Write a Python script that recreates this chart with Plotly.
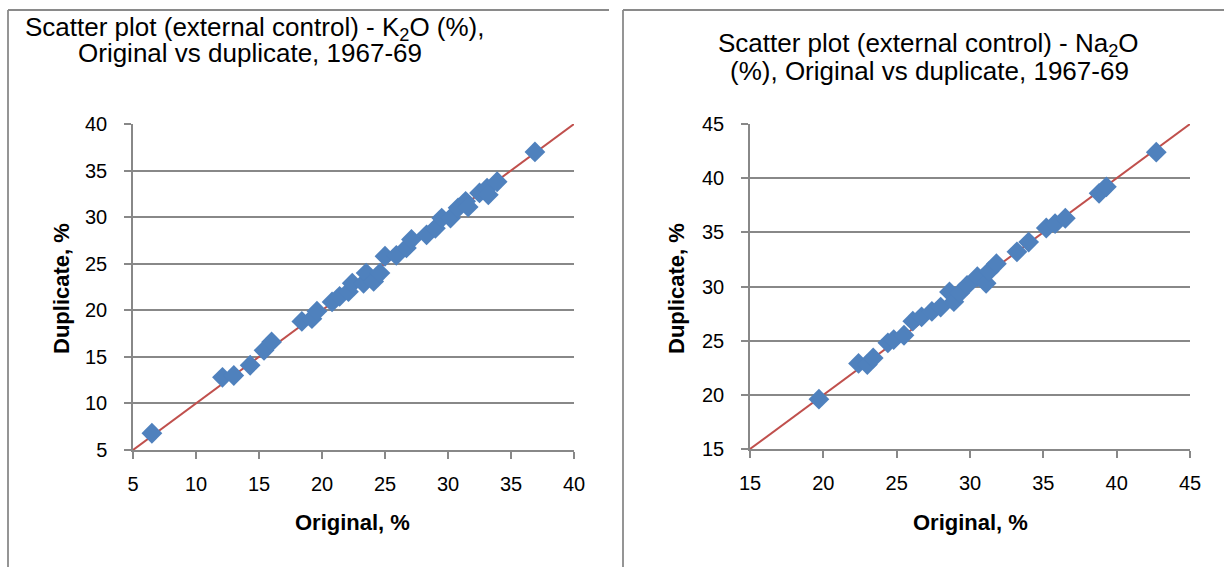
import plotly.graph_objects as go

W, H = 1224, 567

# ---- data: K2O (%) ----
k2o_original = [6.5, 12.1, 13.0, 14.3, 15.4, 16.0, 18.4, 19.2, 19.6, 20.8, 21.4, 22.1, 22.4,
                23.3, 23.5, 24.1, 24.6, 25.0, 25.9, 26.7, 27.1, 28.3, 29.0, 29.5, 30.2, 30.8,
                31.4, 31.6, 32.5, 33.1, 33.2, 33.9, 36.9]
k2o_duplicate = [6.8, 12.8, 13.0, 14.1, 15.7, 16.6, 18.8, 19.1, 19.9, 20.9, 21.5, 22.0, 22.9,
                 22.9, 24.0, 23.1, 24.0, 25.8, 25.9, 26.7, 27.6, 28.1, 28.8, 29.9, 29.9, 31.0,
                 31.7, 31.1, 32.6, 33.1, 32.4, 33.8, 37.0]

# ---- data: Na2O (%) ----
na2o_original = [19.7, 22.4, 23.0, 23.4, 24.4, 24.8, 25.5, 26.1, 26.7, 27.4, 28.0, 28.6, 28.9,
                 29.3, 29.8, 30.5, 31.1, 31.3, 31.8, 33.2, 34.0, 35.2, 35.8, 36.5, 38.8, 39.3, 42.7]
na2o_duplicate = [19.6, 22.9, 22.8, 23.4, 24.8, 25.1, 25.5, 26.8, 27.2, 27.7, 28.1, 29.5, 28.6,
                  29.4, 30.1, 30.9, 30.3, 31.4, 32.1, 33.2, 34.1, 35.4, 35.8, 36.3, 38.6, 39.2, 42.4]

k2o_range = [5, 40]
na2o_range = [15, 45]
k2o_ticks = [5, 10, 15, 20, 25, 30, 35, 40]
na2o_ticks = [15, 20, 25, 30, 35, 40, 45]

k2o_title = ["Scatter plot (external control) - K<sub>2</sub>O (%),",
             "Original vs duplicate, 1967-69"]
na2o_title = ["Scatter plot (external control) - Na<sub>2</sub>O",
              "(%), Original vs duplicate, 1967-69"]
x_title = "Original, %"
y_title = "Duplicate, %"

BLUE = "#4F81BD"
RED = "#C0504D"
GRID = "#888888"
FAMILY = "Liberation Sans, Arial, sans-serif"
TICKFONT = dict(family=FAMILY, size=20, color="#000000")
TITLEFONT = dict(family=FAMILY, size=26, color="#000000")
AXTFONT = dict(family=FAMILY, size=22, color="#000000")


def px_x(p):
    return p / W


def px_y(p):
    return 1 - p / H


fig = go.Figure()

panels = [
    dict(xa="x", ya="y", xo=k2o_original, yo=k2o_duplicate, rng=k2o_range, ticks=k2o_ticks,
         xd=(133, 574), yd=(124, 450)),
    dict(xa="x2", ya="y2", xo=na2o_original, yo=na2o_duplicate, rng=na2o_range, ticks=na2o_ticks,
         xd=(750, 1190), yd=(124, 449)),
]

for i, p in enumerate(panels):
    fig.add_trace(go.Scatter(x=p["rng"], y=p["rng"], mode="lines",
                             line=dict(color=RED, width=2), xaxis=p["xa"], yaxis=p["ya"],
                             showlegend=False, hoverinfo="skip"))
    fig.add_trace(go.Scatter(x=p["xo"], y=p["yo"], mode="markers",
                             marker=dict(symbol="diamond", size=16, color=BLUE,
                                         line=dict(width=0)),
                             xaxis=p["xa"], yaxis=p["ya"], showlegend=False))
    sfx = "" if i == 0 else "2"
    fig.update_layout(**{
        "xaxis" + sfx: dict(domain=[px_x(p["xd"][0]), px_x(p["xd"][1])], range=p["rng"],
                            tickvals=p["ticks"], showgrid=False, zeroline=False,
                            showline=True, linecolor=GRID, linewidth=1.5,
                            ticks="outside", ticklen=7, tickcolor=GRID, tickwidth=1.5,
                            tickfont=TICKFONT, ticklabelstandoff=8, automargin=False,
                            anchor="y" + sfx, fixedrange=True),
        "yaxis" + sfx: dict(domain=[px_y(p["yd"][1]), px_y(p["yd"][0])], range=p["rng"],
                            tickvals=p["ticks"], showgrid=True, gridcolor=GRID, gridwidth=1.5,
                            zeroline=False, showline=True, linecolor=GRID, linewidth=1.5,
                            ticks="outside", ticklen=7, tickcolor=GRID, tickwidth=1.5,
                            tickfont=TICKFONT, ticklabelstandoff=13, automargin=False,
                            anchor="x" + sfx, fixedrange=True),
    })

# panel borders
for x0, x1 in [(8, 609), (623, 1240)]:
    fig.add_shape(type="line", xref="paper", yref="paper", x0=px_x(x0), x1=px_x(x1),
                  y0=px_y(10), y1=px_y(10), line=dict(color="#8A8A8A", width=1.8))
    fig.add_shape(type="line", xref="paper", yref="paper", x0=px_x(x0), x1=px_x(x0),
                  y0=px_y(10), y1=px_y(580), line=dict(color="#8A8A8A", width=1.8))

# titles (one annotation per line)
for lines, cx, cys in [(k2o_title, (255, 250), (29, 53)), (na2o_title, (928, 929), (45, 71))]:
    for txt, x, y in zip(lines, cx, cys):
        fig.add_annotation(text=txt, x=px_x(x), y=px_y(y), xref="paper", yref="paper",
                           showarrow=False, font=TITLEFONT, xanchor="center", yanchor="middle")

# axis titles
for cx, ycx in [(353, 61), (970, 676)]:
    fig.add_annotation(text="<b>" + x_title + "</b>", x=px_x(cx), y=px_y(522), xref="paper",
                       yref="paper", showarrow=False, font=AXTFONT, xanchor="center",
                       yanchor="middle")
    fig.add_annotation(text="<b>" + y_title + "</b>", x=px_x(ycx), y=px_y(289), xref="paper",
                       yref="paper", showarrow=False, font=AXTFONT, textangle=-90,
                       xanchor="center", yanchor="middle")

fig.update_layout(width=W, height=H, autosize=False, margin=dict(l=0, r=0, t=0, b=0, pad=0),
                  paper_bgcolor="white", plot_bgcolor="white", showlegend=False)

fig.write_html("out.html", config={"responsive": False},
               post_script="document.body.style.margin='0';document.body.style.overflow='hidden';")
